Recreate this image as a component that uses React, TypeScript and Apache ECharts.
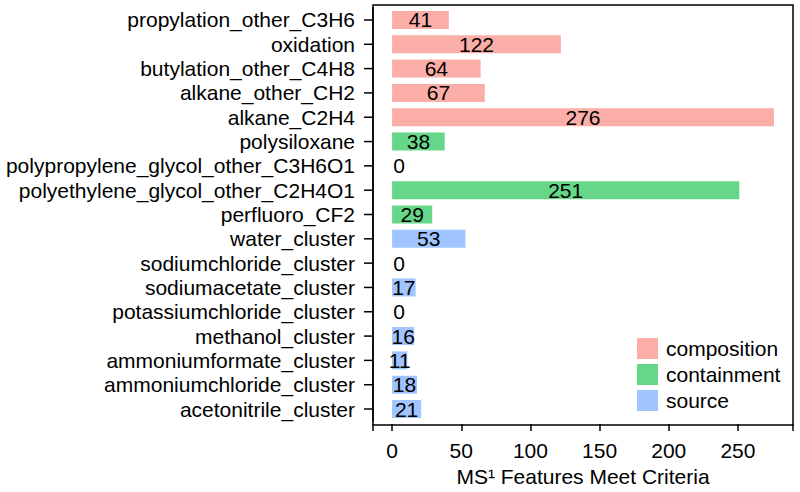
import React, { useEffect, useRef } from "react";
import * as echarts from "echarts";

const categories = [
  "propylation_other_C3H6",
  "oxidation",
  "butylation_other_C4H8",
  "alkane_other_CH2",
  "alkane_C2H4",
  "polysiloxane",
  "polypropylene_glycol_other_C3H6O1",
  "polyethylene_glycol_other_C2H4O1",
  "perfluoro_CF2",
  "water_cluster",
  "sodiumchloride_cluster",
  "sodiumacetate_cluster",
  "potassiumchloride_cluster",
  "methanol_cluster",
  "ammoniumformate_cluster",
  "ammoniumchloride_cluster",
  "acetonitrile_cluster",
];
const values = [41, 122, 64, 67, 276, 38, 0, 251, 29, 53, 0, 17, 0, 16, 11, 18, 21];
const groups = [
  "composition", "composition", "composition", "composition", "composition",
  "containment", "containment", "containment", "containment",
  "source", "source", "source", "source", "source", "source", "source", "source",
];
const groupNames = ["composition", "containment", "source"];
const groupColors = ["#FBADA7", "#66D688", "#A0C4FF"];
const xTicks = [0, 50, 100, 150, 200, 250];

const FONT = "Liberation Sans, Arial, Helvetica, sans-serif";
const FS = 21;
const X_MIN = -13.8;
const X_MAX = 289.8;

export default function App() {
  const ref = useRef<HTMLDivElement>(null);
  useEffect(() => {
    if (!ref.current) return;
    const chart = echarts.init(ref.current, undefined, { renderer: "svg" });
    const left = 373, right = 793, top = 5, bottom = 425;
    const band = 24.375;
    const gridTop = 20 - band / 2;
    const gridH = band * categories.length;
    const series: any[] = groupNames.map((g, gi) => ({
      name: g,
      type: "bar",
      stack: "all",
      barWidth: 18,
      itemStyle: { color: groupColors[gi] },
      label: {
        show: true,
        position: "inside",
        color: "#000",
        fontSize: FS,
        fontFamily: FONT,
      },
      data: values.map((v, i) =>
        groups[i] === g
          ? v === 0
            ? { value: 0, label: { offset: [7, 0] } }
            : v
          : "-"
      ),
    }));
    // y-axis tick marks, placed through the axis scales
    series.push({
      name: "yticks",
      type: "custom",
      silent: true,
      clip: false,
      z: 50,
      encode: { x: 0, y: 1 },
      data: categories.map((_, i) => [X_MIN, i]),
      renderItem: (params: any, api: any) => {
        const p = api.coord([X_MIN, api.value(1)]);
        return {
          type: "line",
          shape: { x1: p[0] - 9, y1: p[1], x2: p[0], y2: p[1] },
          style: { stroke: "#000", lineWidth: 1.5 },
        };
      },
    });
    chart.setOption({
      animation: false,
      textStyle: { fontFamily: FONT },
      grid: { left, top: gridTop, width: right - left, height: gridH },
      xAxis: {
        type: "value",
        min: X_MIN,
        max: X_MAX,
        offset: bottom - (gridTop + gridH),
        splitLine: { show: false },
        axisLine: { show: false, onZero: false },
        axisTick: { show: true, length: 7, lineStyle: { color: "#000", width: 1.5 } },
        axisLabel: {
          color: "#000",
          fontSize: FS,
          fontFamily: FONT,
          margin: 16,
          customValues: xTicks,
          formatter: (v: number) => String(v),
        },
        name: "MS\u00B9 Features Meet Criteria",
        nameLocation: "middle",
        nameGap: 42,
        nameTextStyle: { color: "#000", fontSize: FS, fontFamily: FONT },
      },
      yAxis: {
        type: "category",
        data: categories,
        inverse: true,
        axisLine: { show: true, onZero: false, lineStyle: { color: "#000", width: 1.5 } },
        axisTick: { show: false },
        axisLabel: { color: "#000", fontSize: FS, fontFamily: FONT, margin: 18, interval: 0 },
        splitLine: { show: false },
      },
      legend: {
        orient: "vertical",
        left: 637,
        top: 338,
        padding: 0,
        itemWidth: 21,
        itemHeight: 21,
        itemGap: 5,
        icon: "rect",
        data: groupNames,
        textStyle: { color: "#000", fontSize: FS, fontFamily: FONT, padding: [0, 0, 0, 3] },
      },
      graphic: [
        {
          type: "rect",
          shape: { x: left, y: top, width: right - left, height: bottom - top },
          style: { fill: "none", stroke: "#000", lineWidth: 1.5 },
          z: 100,
          silent: true,
        },
      ],
      series,
    });
    return () => chart.dispose();
  }, []);
  return (
    <div
      ref={ref}
      style={{ position: "absolute", left: 0, top: 0, width: 800, height: 492, background: "#fff" }}
    />
  );
}
